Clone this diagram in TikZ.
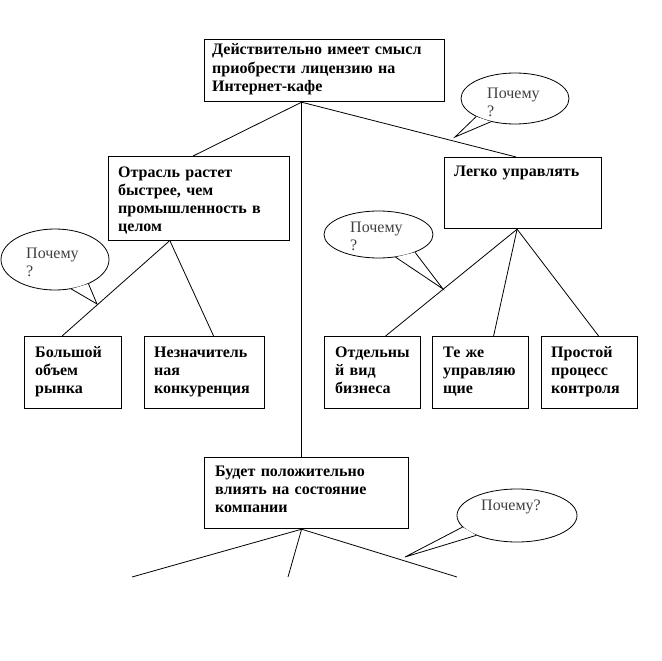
\documentclass[tikz,border=0pt]{standalone}
\usepackage{fontspec}
\setmainfont{Liberation Serif}
\usetikzlibrary{shapes.geometric}
\begin{document}
\begin{tikzpicture}[x=1pt,y=-1pt,
  box/.style={draw, line width=1.2pt, rectangle, inner sep=0pt, anchor=north west},
  btxt/.style={anchor=base west, inner sep=0pt, align=left, text width=300pt,
    font=\bfseries\fontsize{16pt}{18.3pt}\selectfont},
  callout/.style={draw, ellipse, line width=0.8pt, inner sep=0pt},
  ctxt/.style={anchor=base west, inner sep=0pt, align=left, text width=100pt,
    text=black!75, font=\fontsize{16pt}{18pt}\selectfont},
  conn/.style={line width=0.8pt},
  tail/.style={line width=0.8pt}]
\useasboundingbox (0,0) rectangle (662,661);
\fill[white] (0,0) rectangle (662,661);

% boxes
\node[box, minimum width=240pt, minimum height=62pt] (top) at (204,39) {};
\node[box, minimum width=181pt, minimum height=84pt] (otr) at (108,156) {};
\node[box, minimum width=157pt, minimum height=71pt] (leg) at (444,157) {};
\node[box, minimum width=97pt, minimum height=72pt] (bol) at (24,336) {};
\node[box, minimum width=120pt, minimum height=72pt] (nez) at (144,336) {};
\node[box, minimum width=96pt, minimum height=72pt] (otd) at (324,336) {};
\node[box, minimum width=96pt, minimum height=72pt] (tez) at (432,336) {};
\node[box, minimum width=96pt, minimum height=72pt] (pro) at (541,336) {};
\node[box, minimum width=204pt, minimum height=71pt] (bud) at (204,457) {};

% box texts
\node[btxt] (topT) at (212,55) {Действительно имеет смысл\\приобрести лицензию на\\Интернет-кафе};
\node[btxt] (otrT) at (118,177) {Отрасль растет\\быстрее, чем\\промышленность в\\целом};
\node[btxt] (legT) at (454,176) {Легко управлять};
\node[btxt] (bolT) at (35,357) {Большой\\объем\\рынка};
\node[btxt] (nezT) at (154,357) {Незначитель\\ная\\конкуренция};
\node[btxt] (otdT) at (335,357) {Отдельны\\й вид\\бизнеса};
\node[btxt] (tezT) at (443,357) {Те же\\управляю\\щие};
\node[btxt] (proT) at (551,357) {Простой\\процесс\\контроля};
\node[btxt] (budT) at (215,476) {Будет положительно\\влиять на состояние\\компании};

% callouts
\node[callout, minimum width=108pt, minimum height=51pt] (c1) at (515,98.5) {};
\node[callout, minimum width=108pt, minimum height=61pt] (c2) at (55,259.5) {};
\node[callout, minimum width=109pt, minimum height=47pt] (c3) at (378.5,234.5) {};
\node[callout, minimum width=120pt, minimum height=53pt] (c4) at (517,515.5) {};

\coordinate (t1) at (455,137);
\coordinate (t2) at (97,304);
\coordinate (t3) at (443,289);
\coordinate (t4) at (405,557);

\fill[white] (c1.205) -- (t1) -- (c1.224) -- cycle;
\draw[tail] (c1.205) -- (t1) -- (c1.224);
\fill[white] (c2.324) -- (t2) -- (c2.299) -- cycle;
\draw[tail] (c2.324) -- (t2) -- (c2.299);
\fill[white] (c3.307.5) -- (t3) -- (c3.334) -- cycle;
\draw[tail] (c3.307.5) -- (t3) -- (c3.334);
\fill[white] (c4.192) -- (t4) -- (c4.206) -- cycle;
\draw[tail] (c4.192) -- (t4) -- (c4.206);

\node[ctxt] (c1T) at (487,99) {Почему\\?};
\node[ctxt] (c2T) at (26,258) {Почему\\?};
\node[ctxt] (c3T) at (350,232) {Почему\\?};
\node[ctxt] (c4T) at (481,510) {Почему?};

% connectors
\coordinate (apex) at ([xshift=-23pt]top.south);
\draw[conn] (apex) -- ([xshift=-6pt]otr.north);
\draw[conn] (apex) -- ([xshift=-7pt]leg.north);
\draw[conn] (apex) -- (apex |- bud.north);
\draw[conn] ([xshift=-30pt]otr.south) -- ([xshift=-11pt]bol.north);
\draw[conn] ([xshift=-29pt]otr.south) -- ([xshift=9pt]nez.north);
\draw[conn] ([xshift=-6pt]leg.south) -- ([xshift=13pt]otd.north);
\draw[conn] ([xshift=-6pt]leg.south) -- ([xshift=13pt]tez.north);
\draw[conn] ([xshift=-6pt]leg.south) -- ([xshift=9pt]pro.north);

\coordinate (e1) at (132,577);
\coordinate (e2) at (288,577);
\coordinate (e3) at (457,577);
\draw[conn] ([xshift=-5pt]bud.south) -- (e1);
\draw[conn] ([xshift=-5pt]bud.south) -- (e2);
\draw[conn] ([xshift=-5pt]bud.south) -- (e3);
\end{tikzpicture}
\end{document}
